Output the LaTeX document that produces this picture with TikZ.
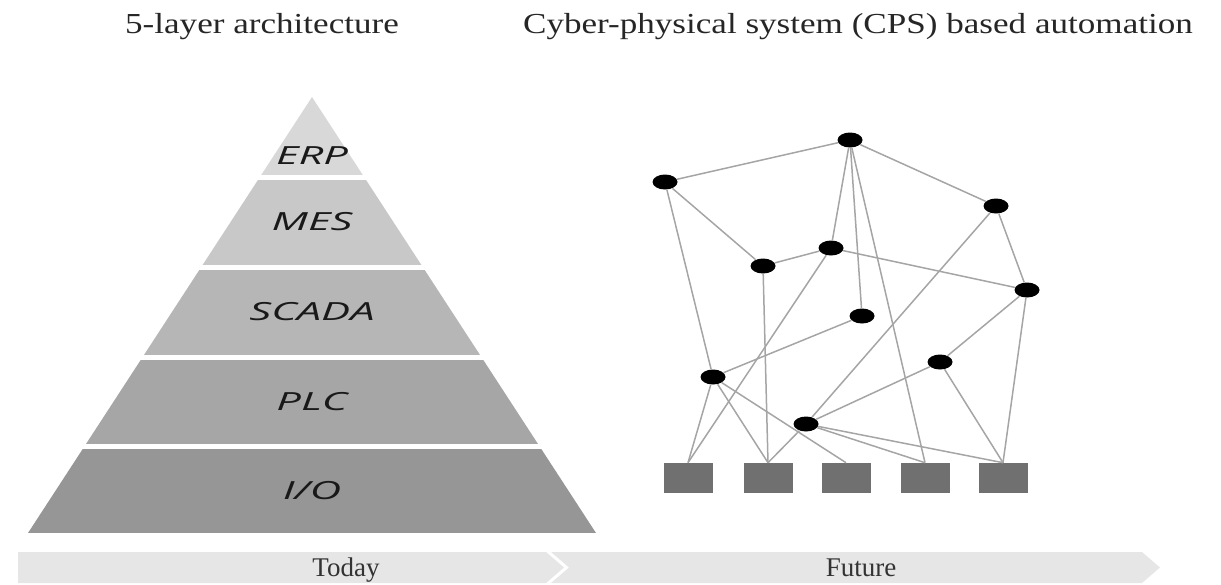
\documentclass[tikz,border=0pt]{standalone}
\usepackage{fontspec}
\setmainfont{Liberation Serif}
\newfontfamily\layerfont{Open Sans}
\usetikzlibrary{shapes.geometric}

\definecolor{erpgray}{RGB}{216,216,216}
\definecolor{mesgray}{RGB}{200,200,200}
\definecolor{scadagray}{RGB}{182,182,182}
\definecolor{plcgray}{RGB}{166,166,166}
\definecolor{iogray}{RGB}{150,150,150}
\definecolor{linkgray}{RGB}{165,165,165}
\definecolor{fieldgray}{RGB}{112,112,112}
\definecolor{bandgray}{RGB}{230,230,230}

\begin{document}
\begin{tikzpicture}[x=1pt,y=-1pt,semithick]
  \tikzstyle{title}=[font=\fontsize{29}{34}\selectfont,text=black!85,xscale=1.21,transform shape,anchor=base]
  \tikzstyle{layer}=[font=\layerfont\itshape\fontsize{25}{30}\selectfont,text=black!90,xscale=1.74,transform shape]
  \tikzstyle{era}=[font=\fontsize{27}{32}\selectfont,text=black!80,anchor=base]
  \tikzstyle{cps}=[ellipse,fill=black,minimum width=25pt,minimum height=15pt,inner sep=0pt]
  \tikzstyle{field}=[rectangle,fill=fieldgray,minimum width=49pt,minimum height=30pt,inner sep=0pt]
  \tikzstyle{link}=[draw=linkgray,line width=1.5pt]

  \useasboundingbox (0,0) rectangle (1221,584);

  \node[title] (layers)  at (262,33) {5-layer architecture};
  \node[title] (cpsauto) at (858,33) {Cyber-physical system (CPS) based automation};

  \begin{scope}
    \clip (312,97) -- (596,533) -- (28,533) -- cycle;
    \foreach \top/\bot/\col in {97/175/erpgray,180/265/mesgray,270/355/scadagray,360/444/plcgray,449/533/iogray}
      \fill[\col] (0,\top) rectangle (1221,\bot);
  \end{scope}

  \node[layer] (erp)   at (312,156) {ERP};
  \node[layer] (mes)   at (312,222) {MES};
  \node[layer] (scada) at (312,312) {SCADA};
  \node[layer] (plc)   at (312,402) {PLC};
  \node[layer] (io)    at (312,491) {I/O};

  \node[cps] (c1)  at (850,140) {};
  \node[cps] (c2)  at (665,182) {};
  \node[cps] (c3)  at (996,206) {};
  \node[cps] (c4)  at (831,248) {};
  \node[cps] (c5)  at (763,266) {};
  \node[cps] (c6)  at (1027,290) {};
  \node[cps] (c7)  at (862,316) {};
  \node[cps] (c8)  at (940,362) {};
  \node[cps] (c9)  at (713,377) {};
  \node[cps] (c10) at (806,424) {};
  \foreach \i/\x in {1/688,2/768,3/846,4/925,5/1003}
    \node[field] (f\i) at (\x,478) {};

  \path[link]
  (c1) edge (c2) edge (c3) edge (c4) edge (c7) edge (f4.north)
  (c2) edge (c5) edge (c9)
  (c5) edge (c4) edge (f2.north)
  (c4) edge (c6) edge (f1.north)
  (c3) edge (c6) edge (c10)
  (c6) edge (c8) edge (f5.north)
  (c7) edge (c9)
  (c8) edge (c10) edge (f5.north)
  (c9) edge (f1.north) edge (f2.north) edge (f3.north)
  (c10) edge (f2.north) edge (f4.north) edge (f5.north);

  \fill[bandgray] (18,552) -- (546,552) -- (564,567.5) -- (546,583) -- (18,583) -- cycle;
  \fill[bandgray] (551,552) -- (1142,552) -- (1160,567.5) -- (1142,583) -- (551,583) -- (569,567.5) -- cycle;
  \node[era] (today)  at (346,576) {Today};
  \node[era] (future) at (861,576) {Future};
\end{tikzpicture}
\end{document}
